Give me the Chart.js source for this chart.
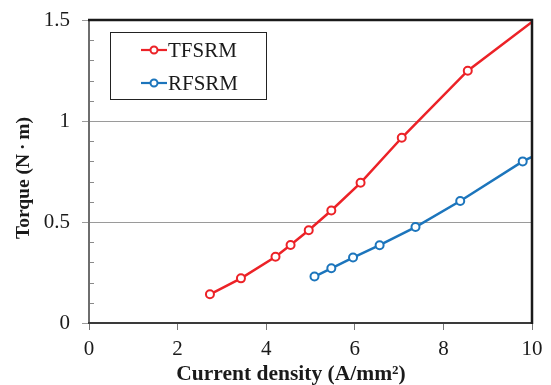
<!DOCTYPE html>
<html>
<head>
<meta charset="utf-8">
<script src="https://cdn.jsdelivr.net/npm/chart.js@4/dist/chart.umd.min.js"></script>
<style>
  html, body { margin: 0; padding: 0; background: #fff; }
  #wrap { width: 551px; height: 385px; }
</style>
</head>
<body>
<div id="wrap"><canvas id="c" width="551" height="385"></canvas></div>
<script>
// Torque vs. current density for the two machine types
const seriesNames = ['TFSRM', 'RFSRM'];
const tfsrmCurrent = [2.73, 3.43, 4.21, 4.55, 4.96, 5.47, 6.13, 7.06, 8.55, 10.0];
const tfsrmTorque  = [0.142, 0.221, 0.328, 0.386, 0.459, 0.557, 0.694, 0.917, 1.249, 1.49];
const rfsrmCurrent = [5.09, 5.47, 5.96, 6.56, 7.37, 8.38, 9.79, 10.0];
const rfsrmTorque  = [0.230, 0.271, 0.324, 0.385, 0.475, 0.604, 0.800, 0.822];
const xTickValues = [0, 2, 4, 6, 8, 10];
const yTickValues = [0, 0.5, 1, 1.5];
const xTitle = 'Current density (A/mm\u00B2)';
const yTitle = 'Torque (N\u2009\u00B7\u2009m)';

const SERIF = '"Liberation Serif", "Times New Roman", serif';
const RED = '#ec2227';
const BLUE = '#1c75bc';

function toPoints(xs, ys) { return xs.map((x, i) => ({ x: x, y: ys[i] })); }
// the last sample sits on the right frame edge and carries no marker
function radii(n) { return Array.from({ length: n }, (_, i) => (i === n - 1 ? 0 : 4)); }

// minor ticks inside the left axis and the heavy plot frame
const framePlugin = {
  id: 'frame',
  afterDraw(chart) {
    const { ctx, chartArea: a, scales } = chart;
    const ys = scales.y;
    ctx.save();
    ctx.strokeStyle = '#8a8a8a';
    ctx.lineWidth = 1;
    for (let k = 1; k < 15; k++) {
      if (k % 5 === 0) continue;
      const py = Math.round(ys.getPixelForValue(k / 10)) + 0.5;
      ctx.beginPath();
      ctx.moveTo(a.left, py);
      ctx.lineTo(a.left + 5, py);
      ctx.stroke();
    }
    // left
    ctx.strokeStyle = '#6e6e6e';
    ctx.lineWidth = 2;
    ctx.beginPath(); ctx.moveTo(a.left, a.top); ctx.lineTo(a.left, a.bottom + 1); ctx.stroke();
    // bottom
    ctx.strokeStyle = '#3a3a3a';
    ctx.beginPath(); ctx.moveTo(a.left - 1, a.bottom); ctx.lineTo(a.right + 1, a.bottom); ctx.stroke();
    // top and right
    ctx.strokeStyle = '#1a1a1a';
    ctx.lineWidth = 2.5;
    ctx.beginPath(); ctx.moveTo(a.left - 1, a.top); ctx.lineTo(a.right, a.top); ctx.lineTo(a.right, a.bottom + 1); ctx.stroke();
    ctx.restore();
  }
};

// axis titles
const axisTitlePlugin = {
  id: 'axisTitles',
  afterDraw(chart) {
    const { ctx, chartArea: a } = chart;
    ctx.save();
    ctx.fillStyle = '#1a1a1a';
    ctx.font = 'bold 21.5px ' + SERIF;
    ctx.textAlign = 'center';
    ctx.textBaseline = 'middle';
    ctx.fillText(xTitle, a.left + 202, chart.height - 11);
    ctx.font = 'bold 19.5px ' + SERIF;
    ctx.translate(24, a.top + 158);
    ctx.rotate(-Math.PI / 2);
    ctx.fillText(yTitle, 0, 0);
    ctx.restore();
  }
};

// boxed legend in the upper-left corner of the plot
const boxLegendPlugin = {
  id: 'boxLegend',
  afterDraw(chart) {
    const { ctx, chartArea: a } = chart;
    const x0 = a.left + 21, y0 = a.top + 12, w = 156, h = 67;
    ctx.save();
    ctx.fillStyle = '#fff';
    ctx.fillRect(x0, y0, w, h);
    ctx.strokeStyle = '#222';
    ctx.lineWidth = 1;
    ctx.strokeRect(x0 + 0.5, y0 + 0.5, w, h);
    chart.data.datasets.forEach((ds, i) => {
      const cy = y0 + 18 + i * 33;
      const lx = x0 + 31;
      ctx.strokeStyle = ds.borderColor;
      ctx.lineWidth = 2.2;
      ctx.beginPath(); ctx.moveTo(lx, cy); ctx.lineTo(lx + 26, cy); ctx.stroke();
      ctx.beginPath();
      ctx.arc(lx + 13, cy, 3.5, 0, Math.PI * 2);
      ctx.fillStyle = '#fff';
      ctx.fill();
      ctx.lineWidth = 2;
      ctx.stroke();
      ctx.fillStyle = '#1a1a1a';
      ctx.font = '21px ' + SERIF;
      ctx.textBaseline = 'middle';
      ctx.textAlign = 'left';
      ctx.fillText(ds.label, lx + 27, cy + 1);
    });
    ctx.restore();
  }
};

new Chart(document.getElementById('c'), {
  type: 'line',
  data: {
    datasets: [
      {
        label: seriesNames[0],
        data: toPoints(tfsrmCurrent, tfsrmTorque),
        borderColor: RED,
        backgroundColor: '#fff',
        borderWidth: 2.5,
        pointRadius: radii(tfsrmCurrent.length),
        pointBorderWidth: 2,
        pointBackgroundColor: '#fff',
        pointBorderColor: RED,
        tension: 0
      },
      {
        label: seriesNames[1],
        data: toPoints(rfsrmCurrent, rfsrmTorque),
        borderColor: BLUE,
        backgroundColor: '#fff',
        borderWidth: 2.5,
        pointRadius: radii(rfsrmCurrent.length),
        pointBorderWidth: 2,
        pointBackgroundColor: '#fff',
        pointBorderColor: BLUE,
        tension: 0
      }
    ]
  },
  options: {
    responsive: false,
    animation: false,
    devicePixelRatio: 1,
    layout: { padding: { top: 20, right: 19, left: 0, bottom: 0 } },
    plugins: { legend: { display: false }, tooltip: { enabled: false } },
    scales: {
      x: {
        type: 'linear',
        min: 0, max: 10,
        afterBuildTicks(scale) { scale.ticks = xTickValues.map(v => ({ value: v })); },
        afterFit(scale) { scale.height = 62; scale.paddingLeft = 0; scale.paddingRight = 0; },
        border: { display: false },
        grid: { drawOnChartArea: false, drawTicks: true, tickLength: 7, color: '#777', lineWidth: 1 },
        ticks: { color: '#1a1a1a', font: { family: SERIF, size: 21 }, padding: 7, maxRotation: 0 }
      },
      y: {
        type: 'linear',
        min: 0, max: 1.5,
        afterBuildTicks(scale) { scale.ticks = yTickValues.map(v => ({ value: v })); },
        afterFit(scale) { scale.width = 89; scale.paddingTop = 0; scale.paddingBottom = 0; },
        border: { display: false },
        grid: { drawTicks: true, tickLength: 7, color: '#9a9a9a', lineWidth: 1 },
        ticks: { color: '#1a1a1a', font: { family: SERIF, size: 21 }, padding: 12, callback: v => String(v) }
      }
    }
  },
  plugins: [framePlugin, axisTitlePlugin, boxLegendPlugin]
});
</script>
</body>
</html>
